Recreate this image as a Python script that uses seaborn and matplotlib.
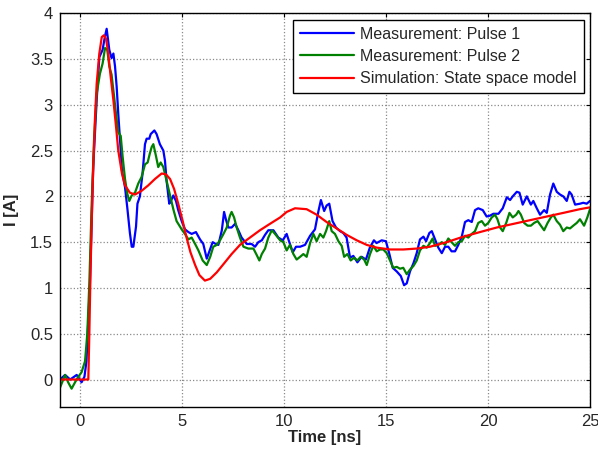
import matplotlib
matplotlib.use("Agg")
import matplotlib.pyplot as plt
import seaborn as sns
import pandas as pd

# Measurement: Pulse 1
t1 = [-1.0, -0.75, -0.5, -0.18, 0.06, 0.2, 0.3, 0.47, 0.63, 0.8, 0.93, 1.09, 1.2, 1.29, 1.42,
      1.53, 1.62, 1.7, 1.78, 1.86, 1.98, 2.04, 2.19, 2.3, 2.43, 2.52, 2.6, 2.73, 2.8, 2.92,
      3.05, 3.17, 3.25, 3.38, 3.45, 3.63, 3.74, 3.9, 4.07, 4.15, 4.23, 4.36, 4.44, 4.56, 4.69,
      4.8, 4.97, 5.13, 5.3, 5.46, 5.67, 5.87, 6.03, 6.2, 6.33, 6.49, 6.64, 6.77, 6.94, 7.05,
      7.15, 7.26, 7.42, 7.59, 7.75, 7.91, 8.16, 8.4, 8.57, 8.73, 8.9, 9.06, 9.22, 9.47, 9.71,
      9.93, 10.12, 10.25, 10.42, 10.58, 10.78, 11.02, 11.27, 11.51, 11.68, 11.8, 11.96, 12.08,
      12.21, 12.37, 12.54, 12.74, 12.9, 13.06, 13.23, 13.39, 13.59, 13.8, 14.01, 14.2, 14.4,
      14.53, 14.78, 14.99, 15.16, 15.32, 15.52, 15.72, 15.88, 16.01, 16.17, 16.34, 16.5, 16.66,
      16.83, 16.96, 17.12, 17.24, 17.4, 17.56, 17.73, 17.89, 18.05, 18.21, 18.38, 18.54, 18.71,
      18.87, 19.03, 19.2, 19.36, 19.52, 19.74, 19.93, 20.1, 20.26, 20.51, 20.72, 20.92, 21.08,
      21.21, 21.41, 21.54, 21.7, 21.9, 22.1, 22.22, 22.39, 22.55, 22.75, 22.88, 23.04, 23.2,
      23.37, 23.53, 23.69, 23.86, 23.99, 24.1, 24.27, 24.51, 24.67, 24.84, 25.0]
i1 = [0.0, 0.05, 0.0, 0.05, -0.03, 0.03, 0.2, 1.05, 2.32, 3.05, 3.52, 3.6, 3.74, 3.83, 3.6,
      3.51, 3.56, 3.42, 3.2, 2.9, 2.5, 2.28, 2.1, 1.88, 1.6, 1.45, 1.45, 1.67, 1.92, 2.0,
      2.25, 2.57, 2.63, 2.63, 2.68, 2.72, 2.68, 2.57, 2.5, 2.39, 2.17, 1.92, 1.95, 2.01, 1.95,
      1.85, 1.73, 1.64, 1.61, 1.59, 1.61, 1.53, 1.48, 1.32, 1.4, 1.5, 1.48, 1.47, 1.63, 1.83,
      1.74, 1.66, 1.66, 1.7, 1.63, 1.55, 1.48, 1.48, 1.45, 1.5, 1.52, 1.58, 1.63, 1.63, 1.55,
      1.52, 1.59, 1.5, 1.39, 1.45, 1.45, 1.47, 1.57, 1.64, 1.84, 1.96, 1.84, 1.9,
      1.92, 1.73, 1.66, 1.62, 1.6, 1.55, 1.33, 1.35, 1.28, 1.34, 1.31, 1.44, 1.52,
      1.49, 1.52, 1.51, 1.37, 1.22, 1.18, 1.13, 1.03, 1.05, 1.18, 1.27, 1.38, 1.53,
      1.56, 1.51, 1.6, 1.62, 1.53, 1.44, 1.38, 1.45, 1.45, 1.4, 1.4, 1.47, 1.56,
      1.72, 1.74, 1.72, 1.85, 1.87, 1.85, 1.78, 1.79, 1.81, 1.81, 1.87, 1.99, 1.96,
      2.0, 2.05, 2.04, 1.91, 2.0, 1.91, 1.95, 1.87, 1.8, 1.85, 1.82, 2.02, 2.14,
      2.05, 2.02, 2.0, 1.95, 2.05, 2.02, 1.91, 1.92, 1.93, 1.92, 1.95]

# Measurement: Pulse 2
t2 = [-1.0, -0.75, -0.6, -0.43, -0.26, -0.1, 0.06, 0.23, 0.34, 0.44, 0.55, 0.67, 0.8, 0.96,
      1.09, 1.21, 1.32, 1.42, 1.53, 1.65, 1.78, 1.86, 1.98, 2.07, 2.19, 2.3, 2.4, 2.52, 2.68,
      2.84, 3.0, 3.17, 3.3, 3.41, 3.5, 3.58, 3.71, 3.82, 3.94, 4.07, 4.23, 4.4, 4.56, 4.72,
      4.97, 5.13, 5.3, 5.46, 5.63, 5.79, 6.0, 6.2, 6.37, 6.52, 6.69, 6.85, 7.02, 7.18, 7.34,
      7.42, 7.54, 7.67, 7.83, 8.0, 8.24, 8.49, 8.65, 8.78, 8.9, 9.06, 9.22, 9.39, 9.55, 9.8,
      9.96, 10.12, 10.28, 10.45, 10.61, 10.78, 10.94, 11.1, 11.27, 11.43, 11.59, 11.76, 11.92,
      12.05, 12.21, 12.33, 12.49, 12.66, 12.82, 12.94, 13.1, 13.26, 13.43, 13.59, 13.75, 13.92,
      14.05, 14.21, 14.37, 14.54, 14.7, 14.86, 15.03, 15.19, 15.35, 15.52, 15.68, 15.84, 16.01,
      16.17, 16.34, 16.5, 16.66, 16.83, 16.99, 17.15, 17.28, 17.4, 17.56, 17.73, 17.89, 18.05,
      18.21, 18.38, 18.54, 18.71, 18.87, 19.03, 19.2, 19.36, 19.52, 19.69, 19.85, 20.01, 20.18,
      20.34, 20.46, 20.59, 20.72, 20.89, 21.05, 21.21, 21.38, 21.49, 21.61, 21.77, 21.94, 22.1,
      22.26, 22.43, 22.59, 22.75, 22.92, 23.08, 23.2, 23.37, 23.53, 23.69, 23.86, 24.02, 24.18,
      24.35, 24.51, 24.71, 24.87, 25.0]
i2 = [-0.09, 0.05, -0.03, -0.1, -0.03, 0.03, 0.08, 0.2, 0.5, 1.05, 1.88, 2.61, 3.12, 3.34,
      3.45, 3.62, 3.6, 3.42, 3.33, 3.1, 2.84, 2.7, 2.66, 2.44, 2.19, 2.03, 1.95, 2.01, 2.04,
      2.14, 2.21, 2.35, 2.37, 2.47, 2.54, 2.57, 2.44, 2.32, 2.37, 2.32, 2.17, 2.01, 1.86, 1.73,
      1.64, 1.59, 1.53, 1.55, 1.48, 1.41, 1.3, 1.25, 1.34, 1.45, 1.47, 1.52, 1.59, 1.66, 1.79,
      1.83, 1.77, 1.66, 1.55, 1.45, 1.43, 1.43, 1.36, 1.3, 1.37, 1.43, 1.55, 1.63, 1.59, 1.52,
      1.5, 1.41, 1.47, 1.37, 1.31, 1.34, 1.37, 1.34, 1.49, 1.59, 1.51, 1.59, 1.55,
      1.62, 1.73, 1.62, 1.59, 1.51, 1.46, 1.34, 1.37, 1.3, 1.33, 1.3, 1.34, 1.31,
      1.25, 1.37, 1.46, 1.4, 1.42, 1.42, 1.38, 1.3, 1.22, 1.23, 1.21, 1.22, 1.15,
      1.2, 1.24, 1.3, 1.41, 1.46, 1.44, 1.49, 1.54, 1.46, 1.47, 1.5, 1.47, 1.54,
      1.5, 1.46, 1.5, 1.51, 1.57, 1.55, 1.59, 1.62, 1.71, 1.73, 1.68, 1.71, 1.77,
      1.8, 1.75, 1.66, 1.62, 1.71, 1.82, 1.77, 1.8, 1.84, 1.8, 1.71, 1.68, 1.68,
      1.71, 1.73, 1.68, 1.63, 1.71, 1.77, 1.8, 1.73, 1.69, 1.62, 1.66, 1.65, 1.68,
      1.71, 1.75, 1.68, 1.77, 1.86]

# Simulation: State space model
t3 = [-1.0, 0.39, 0.44, 0.5, 0.6, 0.72, 0.8, 0.93, 1.05, 1.16, 1.26, 1.37, 1.49, 1.62, 1.75,
      1.86, 2.04, 2.19, 2.43, 2.68, 3.0, 3.33, 3.66, 3.99, 4.2, 4.4, 4.6, 4.8, 5.02, 5.21,
      5.4, 5.63, 5.84, 6.11, 6.37, 6.69, 7.02, 7.42, 7.83, 8.32, 8.81, 9.3, 9.8, 10.12,
      10.53, 11.1, 11.59, 12.08, 12.57, 13.06, 13.56, 14.05, 14.54, 15.2, 15.85, 16.5, 17.15,
      17.97, 18.79, 19.6, 20.43, 21.25, 22.06, 22.88, 23.7, 24.5, 25.0]
i3 = [0.0, 0.0, 0.5, 1.2, 2.1, 2.87, 3.23, 3.56, 3.74, 3.76, 3.72, 3.56, 3.3, 3.05, 2.76,
      2.5, 2.25, 2.12, 2.04, 2.02, 2.06, 2.12, 2.19, 2.25, 2.24, 2.19, 2.08, 1.92, 1.73, 1.55,
      1.39, 1.25, 1.14, 1.08, 1.1, 1.17, 1.26, 1.37, 1.47, 1.55, 1.63, 1.7, 1.77, 1.83,
      1.87, 1.86, 1.8, 1.72, 1.65, 1.58, 1.52, 1.47, 1.44, 1.42, 1.42, 1.43, 1.45,
      1.5, 1.56, 1.61, 1.66, 1.7, 1.74, 1.78, 1.82, 1.86, 1.88]

labels = ["Measurement: Pulse 1", "Measurement: Pulse 2", "Simulation: State space model"]
colors = ["#0000ff", "#008000", "#ff0000"]
x_ticks = [0, 5, 10, 15, 20, 25]
y_ticks = [0, 0.5, 1, 1.5, 2, 2.5, 3, 3.5, 4]

sns.set_style("white")
plt.rcParams["font.family"] = ["Liberation Sans", "DejaVu Sans"]

fig = plt.figure(figsize=(5.98, 4.5), dpi=100)
ax = fig.add_axes([0.1003, 0.0956, 0.8863, 0.875])

for t, i, lab, c in zip([t1, t2, t3], [i1, i2, i3], labels, colors):
    df = pd.DataFrame({"t": t, "i": i})
    sns.lineplot(data=df, x="t", y="i", ax=ax, color=c, linewidth=1.6, label=lab,
                 sort=False, estimator=None)

ax.set_xlim(-1, 25)
ax.set_ylim(-0.3, 4)
ax.set_xticks(x_ticks)
ax.set_xticklabels([str(v) for v in x_ticks])
ax.set_yticks(y_ticks)
ax.set_yticklabels(["0", "0.5", "1", "1.5", "2", "2.5", "3", "3.5", "4"])
ax.grid(True, linestyle=":", color="#8a8a8a", linewidth=0.9)
ax.tick_params(direction="in", top=True, right=True, length=3, labelsize=12, color="black",
               pad=5)
for s in ax.spines.values():
    s.set_color("black")
    s.set_linewidth(1.0)
ax.set_xlabel("Time [ns]", fontsize=12, fontweight="bold", labelpad=1)
ax.set_ylabel("I [A]", fontsize=12, fontweight="bold", labelpad=8)

leg = ax.legend(loc="upper right", fontsize=11.5, frameon=True, fancybox=False,
                framealpha=1, edgecolor="black", borderaxespad=0.4, handlelength=3.4,
                handletextpad=0.35, labelspacing=0.45, borderpad=0.45)
leg.get_frame().set_linewidth(1.0)

fig.savefig("out.png", dpi=100)
